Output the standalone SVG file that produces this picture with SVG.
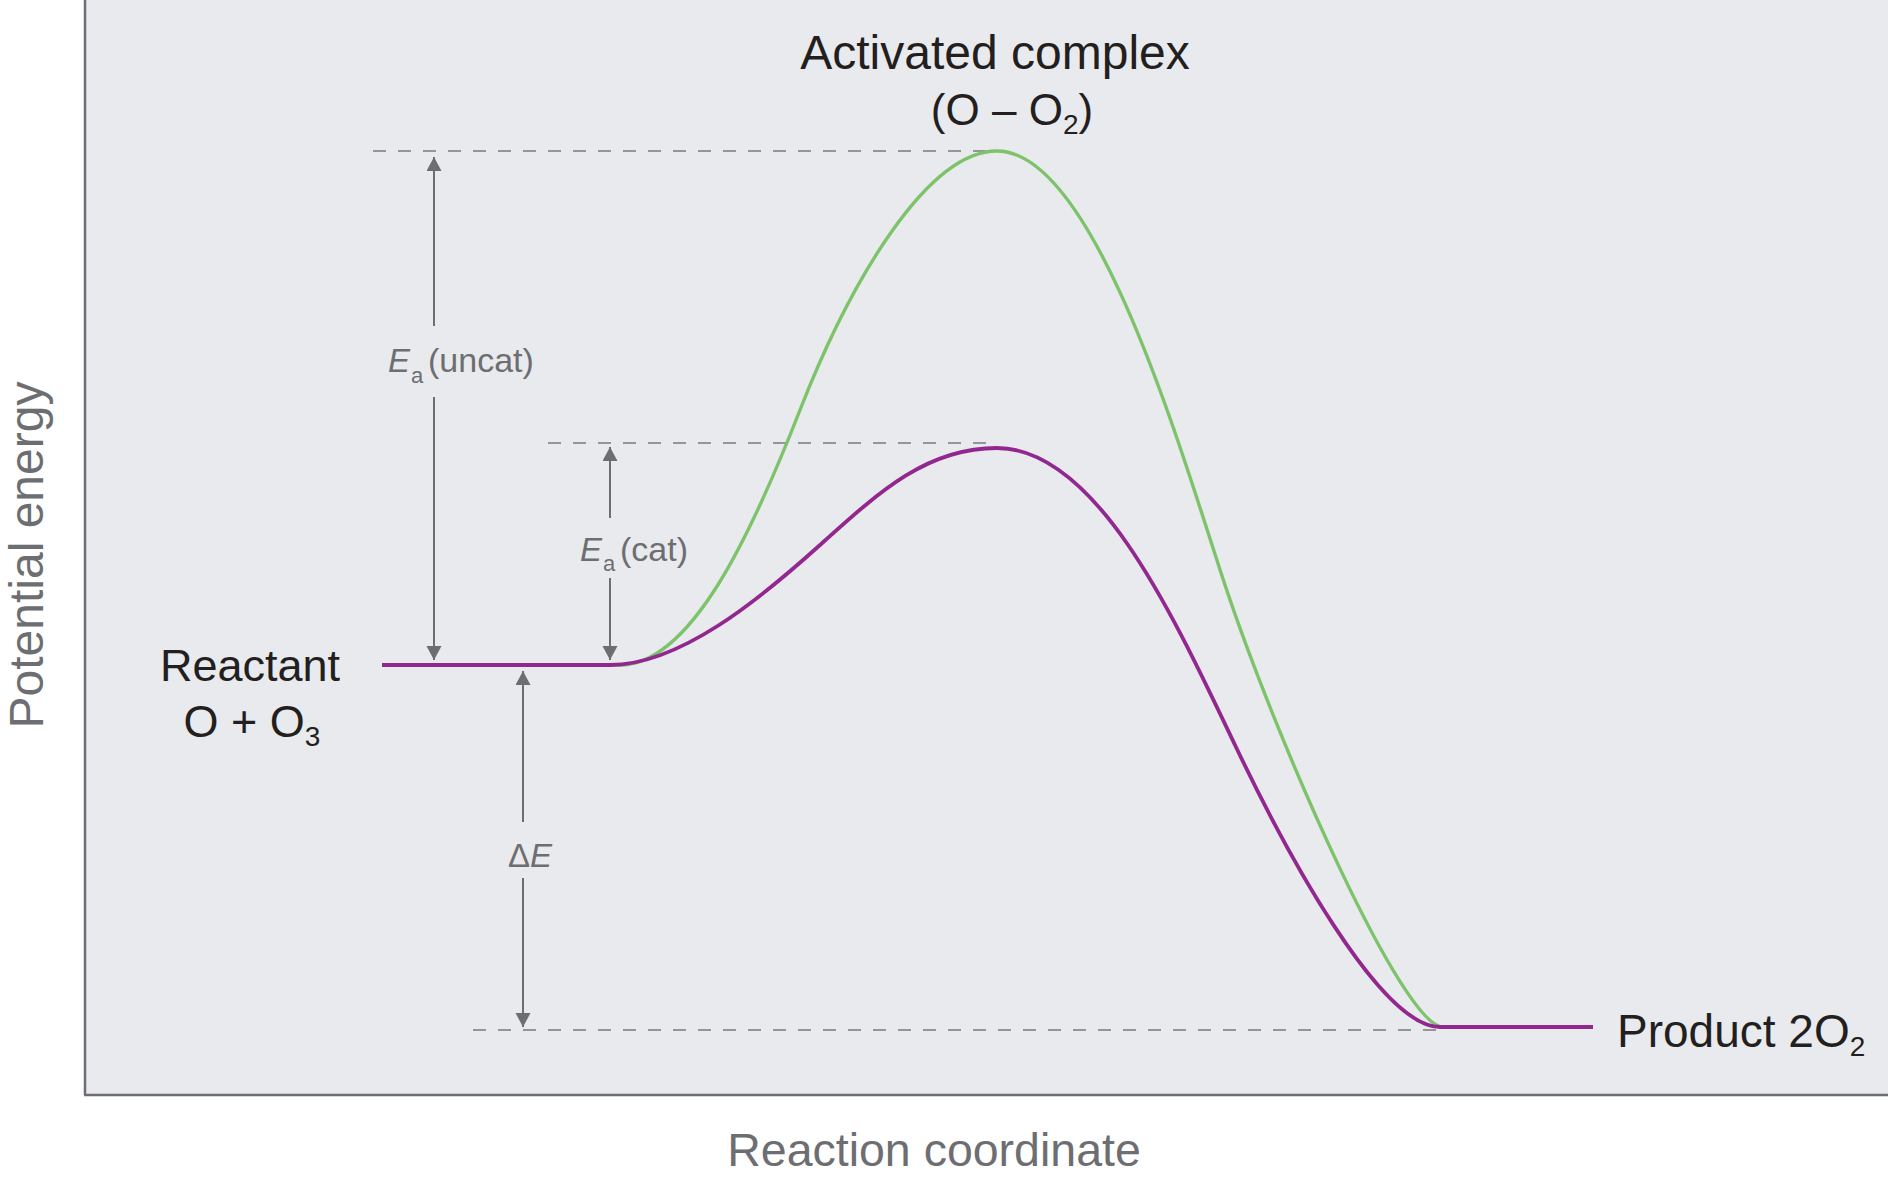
<svg xmlns="http://www.w3.org/2000/svg" width="1891" height="1179" viewBox="0 0 1891 1179">
  <style>
    .blk { font-family: "Liberation Sans", Arial, sans-serif; fill: #231f20; }
    .gry { font-family: "Liberation Sans", Arial, sans-serif; fill: #6d6e71; }
    .dash { stroke: #939598; stroke-width: 2; stroke-dasharray: 13 12; fill: none; }
    .arr { stroke: #6d6e71; stroke-width: 2; fill: none; marker-end: url(#head); }
    .axis { stroke: #6d6e71; stroke-width: 2.5; fill: none; }
    .green { stroke: #7dc36b; stroke-width: 3.4; fill: none; }
    .purple { stroke: #92278f; stroke-width: 3.8; fill: none; }
  </style>
  <defs>
    <marker id="head" markerUnits="userSpaceOnUse" markerWidth="16" markerHeight="16" refX="14" refY="7.5" orient="auto">
      <path d="M0,0 L14,7.5 L0,15 Z" fill="#6d6e71"/>
    </marker>
  </defs>
  <rect x="0" y="0" width="1891" height="1179" fill="#ffffff"/>
  <rect x="86" y="0" width="1802" height="1094" fill="#e9eaed"/>
  <g id="axes">
    <line class="axis" x1="85" y1="0" x2="85" y2="1095"/>
    <line class="axis" x1="84" y1="1095" x2="1888" y2="1095"/>
  </g>
  <g id="guides">
    <line class="dash" x1="373" y1="151" x2="990" y2="151"/>
    <line class="dash" x1="548" y1="443" x2="990" y2="443"/>
    <line class="dash" x1="473" y1="1030" x2="1440" y2="1030"/>
  </g>
  <g id="curves">
    <path id="uncatalyzed" class="green" d="M382 665 H620 C690 665 750 538 800 410 C850 282 927 151 997 151 C1097 151 1185 465 1225 585 C1280 750 1403 1027 1443 1027 H1593"/>
    <path id="catalyzed" class="purple" d="M382 665 H610 C680 665 760 599 820 545 C880 491 927 448 997 448 C1097 448 1175 619 1235 745 C1285 850 1380 1027 1440 1027 H1593"/>
  </g>
  <g id="connectors">
    <line class="arr" x1="434" y1="326" x2="434" y2="157"/>
    <line class="arr" x1="434" y1="397" x2="434" y2="660"/>
    <line class="arr" x1="610" y1="518" x2="610" y2="447"/>
    <line class="arr" x1="610" y1="578" x2="610" y2="660"/>
    <line class="arr" x1="523" y1="822" x2="523" y2="671"/>
    <line class="arr" x1="523" y1="878" x2="523" y2="1027"/>
  </g>
  <g id="activated-complex">
    <text class="blk" x="995" y="69" font-size="48" text-anchor="middle">Activated complex</text>
    <text class="blk" x="1012" y="125" font-size="44" text-anchor="middle">(O – O<tspan font-size="28" dy="9">2</tspan><tspan dy="-9">)</tspan></text>
  </g>
  <g id="reactant">
    <text class="blk" x="250" y="681" font-size="45" text-anchor="middle">Reactant</text>
    <text class="blk" x="252" y="737" font-size="45" text-anchor="middle">O + O<tspan font-size="28" dy="9">3</tspan></text>
  </g>
  <g id="product">
    <text class="blk" x="1617" y="1047" font-size="46">Product 2O<tspan font-size="28" dy="9">2</tspan></text>
  </g>
  <g id="ea-uncat">
    <text class="gry" x="388" y="372" font-size="33"><tspan font-style="italic">E</tspan><tspan font-size="22" x="411" y="383">a</tspan><tspan x="428" y="372" font-size="34">(uncat)</tspan></text>
  </g>
  <g id="ea-cat">
    <text class="gry" x="580" y="561" font-size="33"><tspan font-style="italic">E</tspan><tspan font-size="22" x="603" y="571">a</tspan><tspan x="620" y="561" font-size="34">(cat)</tspan></text>
  </g>
  <g id="delta-e">
    <text class="gry" x="508" y="867" font-size="33">Δ<tspan font-style="italic">E</tspan></text>
  </g>
  <g id="axis-labels">
    <text class="gry" transform="translate(43,555) rotate(-90)" x="0" y="0" font-size="48" text-anchor="middle">Potential energy</text>
    <text class="gry" x="934" y="1166" font-size="46.5" text-anchor="middle">Reaction coordinate</text>
  </g>
</svg>
